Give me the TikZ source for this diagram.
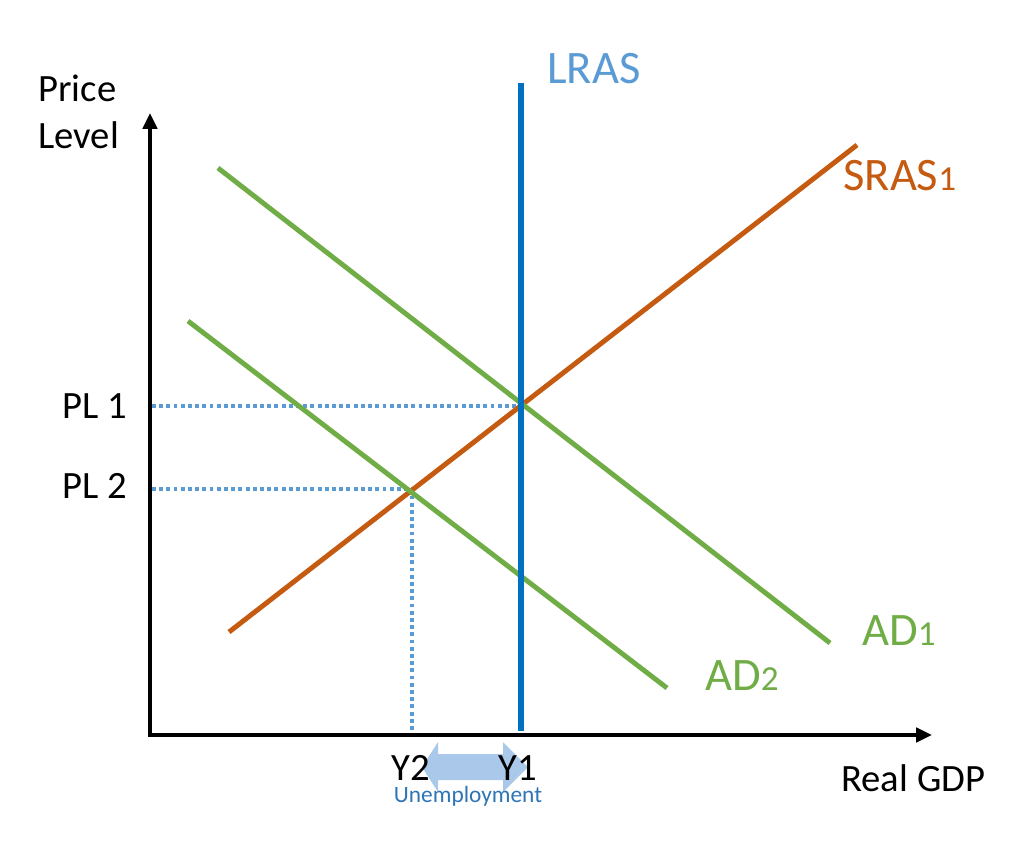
\documentclass[tikz,border=0pt]{standalone}
\usepackage{fontspec}
\setmainfont{Carlito}
\usetikzlibrary{arrows.meta}
\definecolor{lrasblue}{HTML}{0070C0}
\definecolor{lightblue}{HTML}{5B9BD5}
\definecolor{srasorange}{HTML}{C55A11}
\definecolor{adgreen}{HTML}{70AD47}
\definecolor{arrowfill}{HTML}{A9C8EA}
\definecolor{unempblue}{HTML}{2E75B6}
\tikzset{
  axisline/.style={line width=2.3pt,-{Triangle[length=9pt,width=8pt]}},
  curveline/.style={line width=2.8pt},
  guide/.style={lightblue,line width=1.9pt,dash pattern=on 2.2pt off 1.9pt},
  lbl/.style={inner sep=0pt,anchor=base west,font=\fontsize{22}{26}\selectfont},
  biglbl/.style={inner sep=0pt,anchor=base west,font=\fontsize{26.5}{30}\selectfont},
}
\newcommand{\subnum}[1]{{\fontsize{20}{22}\selectfont #1}}
\begin{document}
\begin{tikzpicture}[x=0.02cm,y=-0.02cm]
\useasboundingbox (0,0) rectangle (1023,853);
% coordinates
\coordinate (O) at (150,735);
\coordinate (ytip) at (150,113);
\coordinate (xtip) at (932,735);
\coordinate (lrasT) at (521,83);
\coordinate (lrasB) at (521,731);
\coordinate (srasA) at (229,632);
\coordinate (srasB) at (857,145);
\coordinate (ad1A) at (218,168);
\coordinate (ad1B) at (830,643);
\coordinate (ad2A) at (188,321);
\coordinate (ad2B) at (667,688);
\coordinate (pl1L) at (152,406);
\coordinate (E1) at (521,406);
\coordinate (pl2L) at (152,489);
\coordinate (E2) at (412,489);
\coordinate (y2B) at (412,733);
% double arrow
\fill[arrowfill] (422,767) -- (438,742) -- (438,754) -- (503,754) -- (503,742) -- (528,767)
  -- (503,792) -- (503,780) -- (438,780) -- (438,792) -- cycle;
% guides
\draw[guide] (pl1L) -- (E1);
\draw[guide] (pl2L) -- (E2) -- (y2B);
% curves
\draw[curveline,srasorange] (srasA) -- (srasB);
\draw[curveline,adgreen] (ad1A) -- (ad1B);
\draw[curveline,adgreen] (ad2A) -- (ad2B);
\draw[line width=2.9pt,lrasblue] (lrasB) -- (lrasT);
% axes
\draw[axisline] (O) -- (ytip);
\draw[axisline] ([xshift=-1.1pt]O) -- (xtip);
% labels
\node[lbl] (price) at (38,101) {Price};
\node[lbl] (level) at (38,148) {Level};
\node[biglbl,text=lightblue] (lras) at (547,83) {LRAS};
\node[biglbl,text=srasorange] (sras) at (843,190) {SRAS\subnum{1}};
\node[biglbl,text=adgreen] (ad1) at (862,645) {AD\subnum{1}};
\node[biglbl,text=adgreen] (ad2) at (705,690) {AD\subnum{2}};
\node[lbl,anchor=base east] (pl1) at (127,418) {PL 1};
\node[lbl,anchor=base east] (pl2) at (127,498) {PL 2};
\node[lbl] (y2) at (391,780) {Y2};
\node[lbl] (y1) at (498,780) {Y1};
\node[inner sep=0pt,anchor=base,font=\fontsize{13.3}{15}\selectfont,text=unempblue] (unemp) at (468,802) {Unemployment};
\node[lbl] (gdp) at (841,791) {Real GDP};
\end{tikzpicture}
\end{document}
